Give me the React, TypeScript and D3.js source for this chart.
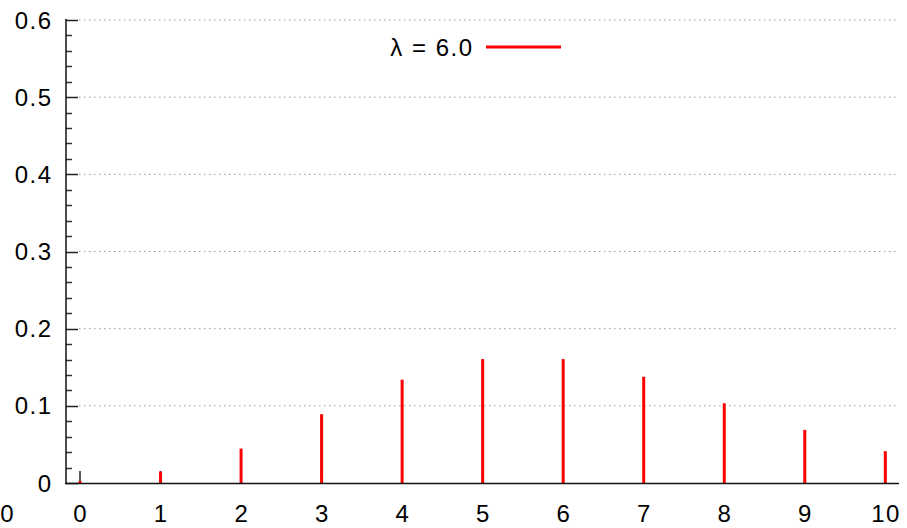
import React, { useEffect, useRef } from "react";
import * as d3 from "d3";

// Poisson probabilities
const ks = [0, 1, 2, 3, 4, 5, 6, 7, 8, 9, 10];
const probs = [0.0025, 0.0149, 0.0446, 0.0892, 0.1339, 0.1606, 0.1606, 0.1377, 0.1033, 0.0688, 0.0413];
const yTicks = [0, 0.1, 0.2, 0.3, 0.4, 0.5, 0.6];
const legendLabel = "λ = 6.0";

const App = () => {
  const svgRef = useRef<SVGSVGElement>(null);

  useEffect(() => {
    const width = 907, height = 528;
    const font = "'Liberation Sans', Arial, sans-serif";
    const ls = 1.5; // the reference spaces its glyphs wider than plain Arial

    const svg = d3.select(svgRef.current);
    svg.selectAll("*").remove();
    svg.attr("width", width).attr("height", height).style("display", "block");

    const x = d3.scaleLinear().domain([-0.174, 10.17]).range([66, 899]);
    const y = d3.scaleLinear().domain([0, 0.6]).range([483, 20]);

    const label = (sel: any) =>
      sel.attr("font-family", font)
        .attr("font-size", 24)
        .attr("letter-spacing", ls)
        .attr("fill", "#000")
        .attr("dy", "0.36em");

    // grid
    svg.append("g")
      .selectAll("line")
      .data(yTicks.filter(d => d > 0))
      .enter()
      .append("line")
      .attr("x1", 79)
      .attr("x2", 899)
      .attr("y1", d => y(d))
      .attr("y2", d => y(d))
      .attr("stroke", "#9a9a9a")
      .attr("stroke-width", 1)
      .attr("stroke-dasharray", "1.5,3.5");

    // minor y ticks
    const minor = d3.range(0, 0.6001, 0.02).filter(v => Math.abs(v * 10 - Math.round(v * 10)) > 1e-6);
    svg.append("g")
      .selectAll("line")
      .data(minor)
      .enter()
      .append("line")
      .attr("x1", 66)
      .attr("x2", 72)
      .attr("y1", d => Math.round(y(d)) + 0.5)
      .attr("y2", d => Math.round(y(d)) + 0.5)
      .attr("stroke", "#333")
      .attr("stroke-width", 1.5);

    // major y ticks + labels
    const yAxis = svg.append("g");
    yAxis.selectAll("line")
      .data(yTicks)
      .enter()
      .append("line")
      .attr("x1", 66)
      .attr("x2", 78)
      .attr("y1", d => Math.round(y(d)) + 0.5)
      .attr("y2", d => Math.round(y(d)) + 0.5)
      .attr("stroke", "#222")
      .attr("stroke-width", 1.5);
    yAxis.selectAll("text")
      .data(yTicks)
      .enter()
      .append("text")
      .attr("x", 51 + ls)
      .attr("y", d => y(d))
      .attr("text-anchor", "end")
      .call(label)
      .text(d => (d === 0 ? "0" : d3.format(".1f")(d)));

    // x ticks (inward)
    svg.append("g")
      .selectAll("line")
      .data(ks)
      .enter()
      .append("line")
      .attr("x1", d => x(d))
      .attr("x2", d => x(d))
      .attr("y1", 483)
      .attr("y2", 471)
      .attr("stroke", "#222")
      .attr("stroke-width", 1.5);

    // x labels
    svg.append("g")
      .selectAll("text")
      .data(ks)
      .enter()
      .append("text")
      .attr("x", d => x(d) + ls / 2)
      .attr("y", 513)
      .attr("text-anchor", "middle")
      .call(label)
      .text(d => d);

    // label cut off at the left edge, as in the reference
    svg.append("text")
      .attr("x", x(-1) + ls / 2)
      .attr("y", 513)
      .attr("text-anchor", "middle")
      .call(label)
      .text("10");

    // impulses
    svg.append("g")
      .selectAll("line")
      .data(ks)
      .enter()
      .append("line")
      .attr("x1", d => x(d))
      .attr("x2", d => x(d))
      .attr("y1", y(0))
      .attr("y2", (d, i) => y(probs[i]))
      .attr("stroke", "#ff0000")
      .attr("stroke-width", 3);

    // axes lines
    svg.append("line")
      .attr("x1", 66).attr("x2", 66)
      .attr("y1", 19).attr("y2", 484)
      .attr("stroke", "#111").attr("stroke-width", 1.5);
    svg.append("line")
      .attr("x1", 65).attr("x2", 899)
      .attr("y1", 483.5).attr("y2", 483.5)
      .attr("stroke", "#111").attr("stroke-width", 1.5);

    // legend
    svg.append("text")
      .attr("x", 472 + ls)
      .attr("y", 47)
      .attr("text-anchor", "end")
      .call(label)
      .text(legendLabel);
    svg.append("line")
      .attr("x1", 486).attr("x2", 561)
      .attr("y1", 47).attr("y2", 47)
      .attr("stroke", "#ff0000").attr("stroke-width", 3);
  }, []);

  return (
    <div style={{ position: "fixed", left: 0, top: 0, background: "#fff" }}>
      <svg ref={svgRef} />
    </div>
  );
};

export default App;
